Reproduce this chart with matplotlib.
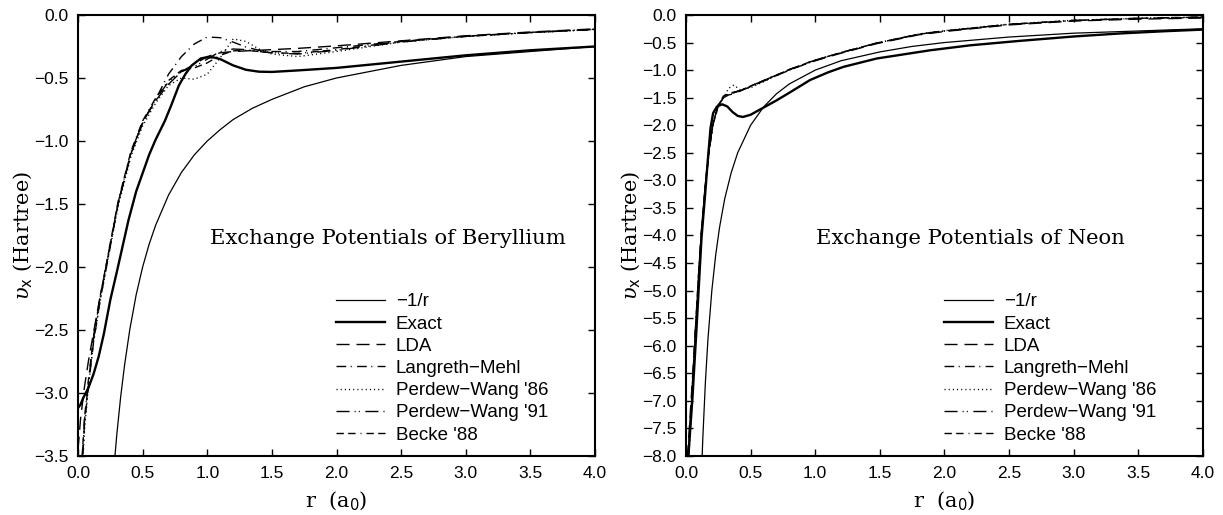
import numpy as np
import matplotlib
matplotlib.use('Agg')
import matplotlib.pyplot as plt

plt.rcParams['font.family'] = ['Liberation Sans', 'DejaVu Sans']
plt.rcParams['mathtext.fontset'] = 'dejavuserif'

# ---------------- Beryllium ----------------
be_inv_r = [0.28, 0.30, 0.33, 0.36, 0.40, 0.45, 0.50, 0.55, 0.60, 0.70, 0.80, 0.90, 1.00,
            1.10, 1.20, 1.35, 1.50, 1.75, 2.00, 2.50, 3.00, 3.50, 4.00]
be_inv_v = [-3.57, -3.33, -3.03, -2.78, -2.50, -2.22, -2.00, -1.82, -1.67, -1.43, -1.25, -1.11, -1.00,
            -0.91, -0.83, -0.74, -0.67, -0.57, -0.50, -0.40, -0.33, -0.29, -0.25]

be_exact_r = [0.00, 0.02, 0.04, 0.08, 0.12, 0.16, 0.20, 0.25, 0.30, 0.39, 0.45, 0.55, 0.60, 0.67,
              0.72, 0.78, 0.83, 0.88, 0.95, 1.00, 1.05, 1.10, 1.20, 1.30, 1.40, 1.50, 1.70, 2.00,
              2.50, 3.00, 3.50, 4.00]
be_exact_v = [-3.12, -3.09, -3.04, -2.96, -2.85, -2.71, -2.53, -2.26, -2.04, -1.63, -1.40, -1.11, -0.99, -0.845,
              -0.72, -0.56, -0.47, -0.40, -0.345, -0.335, -0.337, -0.35, -0.40, -0.435, -0.45, -0.452, -0.44, -0.42,
              -0.37, -0.32, -0.28, -0.25]

be_r = [0.00, 0.02, 0.05, 0.08, 0.12, 0.17, 0.22, 0.31, 0.41, 0.50, 0.60, 0.70, 0.80, 0.90, 1.00,
        1.10, 1.20, 1.30, 1.40, 1.50, 1.70, 2.00, 2.50, 3.00, 3.50, 4.00]
be_lda = [-3.45, -3.20, -2.95, -2.75, -2.52, -2.24, -1.98, -1.50, -1.10, -0.85, -0.68, -0.55, -0.45, -0.39, -0.33,
          -0.30, -0.29, -0.285, -0.28, -0.275, -0.265, -0.245, -0.205, -0.165, -0.135, -0.11]
be_lm = [-4.60, -3.80, -3.25, -2.95, -2.60, -2.27, -2.00, -1.50, -1.10, -0.86, -0.67, -0.47, -0.33, -0.23, -0.175,
         -0.18, -0.215, -0.255, -0.28, -0.29, -0.29, -0.26, -0.21, -0.17, -0.14, -0.115]
be_pw86 = [-4.80, -3.85, -3.30, -2.95, -2.60, -2.28, -2.00, -1.52, -1.12, -0.88, -0.70, -0.56, -0.50, -0.51, -0.47,
           -0.34, -0.19, -0.21, -0.27, -0.31, -0.33, -0.29, -0.215, -0.17, -0.14, -0.115]
be_pw91 = [-4.50, -3.75, -3.22, -2.92, -2.57, -2.25, -1.98, -1.49, -1.09, -0.85, -0.67, -0.53, -0.45, -0.41, -0.35,
           -0.29, -0.27, -0.275, -0.29, -0.30, -0.31, -0.28, -0.215, -0.17, -0.14, -0.115]
be_b88 = [-4.40, -3.70, -3.20, -2.90, -2.55, -2.24, -1.97, -1.48, -1.08, -0.84, -0.66, -0.52, -0.44, -0.42, -0.38,
          -0.32, -0.285, -0.28, -0.29, -0.30, -0.305, -0.275, -0.21, -0.168, -0.138, -0.113]

# ---------------- Neon ----------------
ne_inv_r = [0.12, 0.13, 0.15, 0.17, 0.20, 0.23, 0.26, 0.30, 0.35, 0.40, 0.50, 0.60, 0.70, 0.80,
            1.00, 1.20, 1.50, 1.75, 2.00, 2.50, 3.00, 3.50, 4.00]
ne_inv_v = [-8.33, -7.69, -6.67, -5.88, -5.00, -4.35, -3.85, -3.33, -2.86, -2.50, -2.00, -1.67, -1.43, -1.25,
            -1.00, -0.83, -0.67, -0.57, -0.50, -0.40, -0.33, -0.29, -0.25]

ne_exact_r = [0.00, 0.02, 0.05, 0.08, 0.10, 0.12, 0.15, 0.17, 0.19, 0.21, 0.24, 0.28, 0.32, 0.36, 0.40,
              0.44, 0.50, 0.60, 0.70, 0.80, 0.96, 1.10, 1.22, 1.475, 1.89, 2.20, 2.58, 3.00, 3.36, 3.70, 4.00]
ne_exact_v = [-8.60, -7.95, -6.95, -5.75, -4.90, -4.05, -3.20, -2.60, -2.05, -1.78, -1.66, -1.62, -1.66, -1.76, -1.83,
              -1.85, -1.81, -1.68, -1.55, -1.41, -1.18, -1.04, -0.94, -0.79, -0.64, -0.55, -0.47, -0.39, -0.335, -0.295, -0.265]

ne_r = [0.00, 0.02, 0.05, 0.08, 0.10, 0.12, 0.15, 0.18, 0.21, 0.25, 0.29, 0.33, 0.37, 0.42, 0.50, 0.60,
        0.70, 0.80, 0.96, 1.10, 1.22, 1.475, 1.80, 2.00, 2.50, 3.00, 3.50, 4.00]
ne_lda = [-8.40, -7.70, -6.60, -5.40, -4.60, -3.90, -3.05, -2.40, -1.95, -1.65, -1.50, -1.45, -1.43, -1.38, -1.30, -1.20,
          -1.10, -1.00, -0.86, -0.76, -0.68, -0.52, -0.36, -0.30, -0.18, -0.11, -0.075, -0.055]
ne_lm = [-9.50, -8.00, -6.75, -5.50, -4.65, -3.95, -3.10, -2.45, -1.98, -1.66, -1.49, -1.42, -1.40, -1.37, -1.29, -1.19,
         -1.09, -0.99, -0.85, -0.75, -0.67, -0.51, -0.35, -0.29, -0.17, -0.10, -0.065, -0.045]
ne_pw86 = [-9.80, -8.10, -6.80, -5.55, -4.70, -3.98, -3.12, -2.46, -1.98, -1.62, -1.50, -1.33, -1.27, -1.36, -1.32, -1.21,
           -1.10, -1.00, -0.86, -0.75, -0.67, -0.51, -0.345, -0.285, -0.165, -0.095, -0.06, -0.04]
ne_pw91 = [-9.30, -7.95, -6.70, -5.45, -4.62, -3.92, -3.08, -2.43, -1.97, -1.64, -1.48, -1.44, -1.41, -1.37, -1.29, -1.19,
           -1.09, -0.99, -0.85, -0.75, -0.67, -0.51, -0.35, -0.29, -0.17, -0.10, -0.06, -0.04]
ne_b88 = [-9.20, -7.90, -6.68, -5.43, -4.61, -3.91, -3.07, -2.42, -1.96, -1.63, -1.47, -1.43, -1.41, -1.37, -1.29, -1.19,
          -1.09, -0.99, -0.85, -0.75, -0.67, -0.51, -0.35, -0.29, -0.17, -0.10, -0.06, -0.035]

labels = ['\u22121/r', 'Exact', 'LDA', 'Langreth\u2212Mehl',
          'Perdew\u2212Wang \'86', 'Perdew\u2212Wang \'91', 'Becke \'88']
styles = [dict(lw=0.9, ls='-'),
          dict(lw=1.7, ls='-'),
          dict(lw=1.0, ls=(0, (9.4, 5))),
          dict(lw=1.0, ls=(0, (7, 3.2, 0.8, 3.8))),
          dict(lw=1.0, ls=(0, (0.8, 2.2))),
          dict(lw=1.0, ls=(0, (9.4, 3.6, 0.8, 2.2, 0.8, 4))),
          dict(lw=1.0, ls=(0, (5.3, 3.1, 5.3, 3.6, 0.7, 3.6)))]

serif = 'DejaVu Serif'


def fmt(v, pos):
    # one decimal with a true minus sign
    s = '%.1f' % v
    if s == '-0.0':
        s = '0.0'
    return s.replace('-', '\u2212')


def panel(ax, curves, ymin, title, tx):
    for (r, v), lab, st in zip(curves, labels, styles):
        ax.plot(r, v, color='black', label=lab, **st)
    ax.set_xlim(0, 4)
    ax.set_ylim(ymin, 0)
    ax.set_xticks(np.arange(0, 4.01, 0.5))
    ax.set_yticks(np.arange(ymin, 0.01, 0.5))
    ax.xaxis.set_major_formatter(matplotlib.ticker.FuncFormatter(fmt))
    ax.yaxis.set_major_formatter(matplotlib.ticker.FuncFormatter(fmt))
    ax.tick_params(direction='in', length=5, width=1, top=True, right=True,
                   labelsize=12.5, pad=7)
    for s in ax.spines.values():
        s.set_linewidth(1.5)
    ax.set_xlabel(r'r  (a$_\mathsf{0}$)', family=serif, fontsize=15, labelpad=6)
    ax.set_ylabel(r'$\upsilon_\mathsf{x}$ (Hartree)', family=serif, fontsize=15, labelpad=0)
    ax.text(tx, 0.494, title, transform=ax.transAxes, family=serif, fontsize=15.2,
            ha='center', va='center')
    ax.legend(loc='upper left', bbox_to_anchor=(0.499, 0.369), frameon=False,
              borderpad=0, borderaxespad=0, handlelength=2.6, handletextpad=0.6,
              labelspacing=0.27, fontsize=13.5)


fig = plt.figure(figsize=(12.23, 5.15), dpi=100)
ax1 = fig.add_axes([0.0638, 0.1146, 0.4227, 0.8563])
ax2 = fig.add_axes([0.5609, 0.1146, 0.4227, 0.8563])

panel(ax1, [(be_inv_r, be_inv_v), (be_exact_r, be_exact_v), (be_r, be_lda), (be_r, be_lm),
            (be_r, be_pw86), (be_r, be_pw91), (be_r, be_b88)],
      -3.5, 'Exchange Potentials of Beryllium', 0.60)
panel(ax2, [(ne_inv_r, ne_inv_v), (ne_exact_r, ne_exact_v), (ne_r, ne_lda), (ne_r, ne_lm),
            (ne_r, ne_pw86), (ne_r, ne_pw91), (ne_r, ne_b88)],
      -8.0, 'Exchange Potentials of Neon', 0.551)

fig.savefig('out.png', dpi=100)
